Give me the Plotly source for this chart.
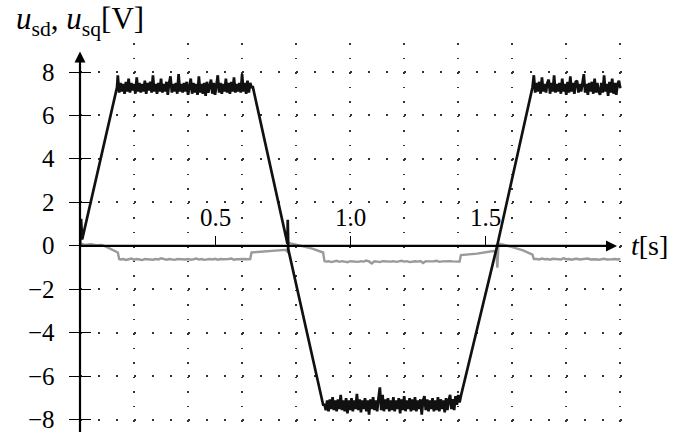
import numpy as np
import plotly.graph_objects as go

# ---------------------------------------------------------------- data
DT_Q = 0.005   # sample step of the u_sq plateau records [s]
DT_D = 0.01    # sample step of the u_sd plateau records [s]

# u_sq : transitions between plateaus (time [s], voltage [V])
usq_ramp1_t = [0.0, 0.004, 0.008, 0.137]
usq_ramp1_v = [0.0, 1.25, 0.3, 7.3]
usq_ramp2_t = [0.64, 0.768, 0.769, 0.771, 0.90]
usq_ramp2_v = [7.3, 0.1, 1.2, -0.15, -7.3]
usq_ramp3_t = [1.41, 1.544, 1.675]
usq_ramp3_v = [-6.9, 0.0, 7.3]

# u_sq : plateau records
usq_plat1_t0 = 0.14
usq_plat1 = [
    7.85, 7.05, 7.5, 7.1, 7.45, 7.0, 7.55, 7.1, 7.7, 7.05,
    7.5, 7.15, 7.45, 7.0, 7.75, 7.1, 7.5, 7.05, 7.45, 7.1,
    7.6, 7.0, 7.5, 7.15, 7.55, 7.05, 7.85, 7.1, 7.45, 7.0,
    7.5, 7.1, 7.7, 7.05, 7.45, 7.1, 7.55, 6.95, 7.5, 7.8,
    7.05, 7.45, 7.1, 7.5, 7.0, 7.9, 7.1, 7.45, 7.05, 7.5,
    7.1, 7.55, 6.95, 7.45, 7.7, 7.0, 7.5, 7.05, 7.45, 6.95,
    7.8, 7.05, 7.45, 7.0, 7.5, 6.9, 7.55, 7.05, 7.45, 7.65,
    7.0, 7.5, 6.95, 7.45, 7.85, 7.05, 7.5, 7.0, 7.45, 7.1,
    7.7, 7.05, 7.5, 7.0, 7.55, 7.1, 7.75, 7.05, 7.45, 7.1,
    7.5, 7.05, 7.9, 7.1, 7.5, 7.0, 7.6, 7.05, 7.5, 7.3,
]
usq_plat2_t0 = 0.905
usq_plat2 = [
    -7.3, -7.55, -7.1, -7.6, -7.05, -7.5, -6.95, -7.55, -7.1, -7.6,
    -7.05, -7.5, -6.85, -7.55, -7.1, -7.6, -7.0, -7.7, -7.1, -7.55,
    -7.0, -7.6, -7.1, -7.5, -6.8, -7.55, -7.05, -7.65, -7.1, -7.5,
    -7.0, -7.6, -7.1, -7.75, -7.05, -7.5, -6.95, -7.55, -7.1, -7.6,
    -7.0, -6.5, -7.55, -6.85, -7.6, -7.05, -7.5, -7.0, -7.6, -7.1,
    -7.55, -6.95, -7.6, -7.1, -7.5, -7.0, -7.7, -7.05, -7.55, -6.9,
    -7.6, -7.1, -7.5, -7.0, -7.6, -7.05, -7.55, -6.95, -7.6, -7.1,
    -7.5, -7.05, -7.75, -7.1, -6.9, -7.55, -7.05, -7.6, -7.1, -7.5,
    -7.0, -7.6, -7.1, -7.55, -6.95, -7.6, -7.05, -7.5, -7.1, -7.65,
    -7.0, -7.55, -7.1, -6.85, -7.5, -7.05, -7.55, -6.9, -7.3, -6.85,
    -7.2,
]
usq_plat3_t0 = 1.68
usq_plat3 = [
    7.85, 7.05, 7.5, 7.1, 7.55, 7.0, 7.75, 7.1, 7.45, 7.05,
    7.5, 7.65, 7.0, 7.5, 7.1, 7.85, 7.05, 7.45, 7.1, 7.5,
    7.0, 7.7, 7.1, 7.45, 6.95, 7.55, 7.05, 7.8, 7.1, 7.5,
    7.0, 7.55, 7.6, 7.05, 7.45, 7.1, 7.5, 7.9, 7.05, 7.45,
    6.95, 7.5, 7.1, 7.55, 7.0, 7.7, 7.05, 7.5, 7.1, 6.95,
    7.5, 7.05, 7.85, 7.1, 7.45, 6.9, 7.55, 7.05, 7.7, 7.0,
    7.5, 6.95, 7.45, 7.6, 7.25,
]

# u_sd : transitions (time [s], voltage [V])
usd_tr1_t = [0.0, 0.005, 0.02, 0.04, 0.06, 0.08, 0.10, 0.12, 0.14, 0.145]
usd_tr1_v = [0.0, 0.1, 0.05, 0.08, 0.04, 0.05, -0.05, -0.18, -0.3, -0.6]
usd_tr2_t = [0.63, 0.635, 0.70, 0.76, 0.767, 0.772, 0.78, 0.82, 0.86, 0.90, 0.905]
usd_tr2_v = [-0.6, -0.3, -0.25, -0.18, -0.25, 0.15, 0.12, 0.0, -0.12, -0.3, -0.7]
usd_tr3_t = [1.405, 1.41, 1.47, 1.53, 1.541, 1.545, 1.549, 1.56, 1.60, 1.64, 1.675, 1.68]
usd_tr3_v = [-0.72, -0.42, -0.35, -0.23, -0.3, -1.0, 0.1, 0.08, -0.05, -0.2, -0.4, -0.6]

# u_sd : plateau records
usd_plat1_t0 = 0.15
usd_plat1 = [
    -0.62, -0.6, -0.64, -0.61, -0.58, -0.63, -0.6, -0.62, -0.65, -0.6,
    -0.61, -0.59, -0.63, -0.6, -0.62, -0.57, -0.61, -0.63, -0.6, -0.62,
    -0.64, -0.6, -0.61, -0.59, -0.62, -0.6, -0.63, -0.61, -0.58, -0.62,
    -0.6, -0.64, -0.61, -0.6, -0.62, -0.59, -0.63, -0.6, -0.61, -0.62,
    -0.6, -0.58, -0.63, -0.61, -0.6, -0.62, -0.6, -0.61,
]
usd_plat2_t0 = 0.91
usd_plat2 = [
    -0.72, -0.7, -0.74, -0.71, -0.68, -0.73, -0.7, -0.72, -0.75, -0.7,
    -0.71, -0.69, -0.73, -0.7, -0.72, -0.67, -0.71, -0.8, -0.7, -0.72,
    -0.74, -0.7, -0.71, -0.69, -0.72, -0.7, -0.73, -0.71, -0.68, -0.72,
    -0.7, -0.74, -0.71, -0.7, -0.72, -0.69, -0.78, -0.7, -0.71, -0.72,
    -0.7, -0.68, -0.73, -0.71, -0.7, -0.72, -0.7, -0.71, -0.73, -0.72,
]
usd_plat3_t0 = 1.69
usd_plat3 = [
    -0.6, -0.62, -0.58, -0.61, -0.6, -0.63, -0.59, -0.61, -0.6, -0.62,
    -0.57, -0.61, -0.6, -0.63, -0.6, -0.59, -0.62, -0.6, -0.61, -0.58,
    -0.62, -0.6, -0.61, -0.63, -0.6, -0.59, -0.62, -0.6, -0.61, -0.6,
    -0.62, -0.6,
]

y_ticks = [-8, -6, -4, -2, 0, 2, 4, 6, 8]
y_ticktext = ["\u22128", "\u22126", "\u22124", "\u22122", "0", "2", "4", "6", "8"]
t_ticks = [0.5, 1.0, 1.5]
t_ticktext = ["0.5", "1.0", "1.5"]
t_grid = [0.2, 0.4, 0.6, 0.8, 1.0, 1.2, 1.4, 1.6, 1.8, 2.0]


def record(t0, step, values):
    return list(t0 + step * np.arange(len(values))), list(values)


def join(*parts):
    t, v = [], []
    for pt, pv in parts:
        t += list(pt)
        v += list(pv)
    return t, v


usq_t, usq_v = join(
    (usq_ramp1_t, usq_ramp1_v),
    record(usq_plat1_t0, DT_Q, usq_plat1),
    (usq_ramp2_t, usq_ramp2_v),
    record(usq_plat2_t0, DT_Q, usq_plat2),
    (usq_ramp3_t, usq_ramp3_v),
    record(usq_plat3_t0, DT_Q, usq_plat3),
)
usd_t, usd_v = join(
    (usd_tr1_t, usd_tr1_v),
    record(usd_plat1_t0, DT_D, usd_plat1),
    (usd_tr2_t, usd_tr2_v),
    record(usd_plat2_t0, DT_D, usd_plat2),
    (usd_tr3_t, usd_tr3_v),
    record(usd_plat3_t0, DT_D, usd_plat3),
)

# ---------------------------------------------------------------- layout
W, H = 688, 434
L, T = 80, 43
X_RANGE = [0.0, 2.01]
Y_RANGE = [-8.6, 9.3333]
PX_PER_S = 270.0
PX_PER_V = 21.75
plot_w = (X_RANGE[1] - X_RANGE[0]) * PX_PER_S
plot_h = (Y_RANGE[1] - Y_RANGE[0]) * PX_PER_V
R = W - L - plot_w
B = H - T - plot_h
zero_frac = (0 - Y_RANGE[0]) / (Y_RANGE[1] - Y_RANGE[0])
Y0_PX = T + Y_RANGE[1] * PX_PER_V          # pixel row of u = 0

FONT = "Liberation Serif"
fs = 25
txt_font = dict(family=FONT, size=fs, color="black")

fig = go.Figure()
fig.add_trace(go.Scatter(x=usd_t, y=usd_v, mode="lines",
                         line=dict(color="#9a9a9a", width=2.4),
                         xaxis="x", yaxis="y", showlegend=False))
fig.add_trace(go.Scatter(x=usq_t, y=usq_v, mode="lines",
                         line=dict(color="#111111", width=2.7),
                         xaxis="x2", yaxis="y2", showlegend=False))

grid_col = "#333333"
common = dict(zeroline=False, showline=False, showticklabels=False)
tick_style = dict(ticklen=10, tickwidth=1.2, tickcolor="black", showgrid=False)

fig.update_layout(
    width=W, height=H,
    margin=dict(l=L, r=R, t=T, b=B, pad=0),
    paper_bgcolor="white", plot_bgcolor="white",
    font=txt_font,
    showlegend=False,
    # vertical dotted grid every 0.2 s
    xaxis=dict(range=X_RANGE, tickmode="array", tickvals=t_grid, ticks="",
               showgrid=True, gridcolor=grid_col, gridwidth=1.7,
               griddash="1.7px,12.8px", **common),
    # time ticks crossing the time axis (upper and lower halves)
    xaxis2=dict(range=X_RANGE, overlaying="x", anchor="free", position=zero_frac,
                side="top", tickmode="array", tickvals=t_ticks, ticks="outside",
                **tick_style, **common),
    xaxis3=dict(range=X_RANGE, overlaying="x", anchor="free", position=zero_frac,
                side="bottom", tickmode="array", tickvals=t_ticks, ticks="outside",
                **tick_style, **common),
    # voltage ticks and horizontal dotted grid
    yaxis=dict(range=Y_RANGE, tickmode="array", tickvals=y_ticks, ticks="outside",
               ticklen=10, tickwidth=1.2, tickcolor="black",
               showgrid=True, gridcolor=grid_col, gridwidth=1.7,
               griddash="1.7px,16.3px", **common),
    yaxis2=dict(range=Y_RANGE, overlaying="y", anchor="free", position=0,
                side="left", tickmode="array", tickvals=y_ticks, ticks="inside",
                **tick_style, **common),
)


def px_x(p):
    return (p - L) / plot_w


# tick labels
for v, s in zip(y_ticks, y_ticktext):
    fig.add_annotation(text=s, xref="paper", yref="y", x=px_x(57), y=v,
                       xanchor="right", yanchor="middle", showarrow=False,
                       font=txt_font)
for v, s in zip(t_ticks, t_ticktext):
    fig.add_annotation(text=s, xref="x", yref="y", x=v, y=0, yshift=28,
                       xanchor="center", yanchor="middle", showarrow=False,
                       font=txt_font)

# axis titles carrying the axis lines with their arrow heads
axis_arrow = dict(showarrow=True, arrowside="start", startarrowhead=2,
                  startarrowsize=1.0, arrowwidth=2.2, arrowcolor="black",
                  standoff=0, xref="x", yref="y", axref="pixel", ayref="pixel")
y_bottom = -8.55
y_bottom_px = Y0_PX - y_bottom * PX_PER_V
fig.add_annotation(text="<i>u</i><sub>sd</sub>, <i>u</i><sub>sq</sub>[V]",
                   x=0, y=y_bottom, ax=0, ay=21 - y_bottom_px,
                   startstandoff=9, font=dict(family=FONT, size=31, color="black"),
                   **axis_arrow)
fig.add_annotation(text="<i>t</i>[s]", x=0, y=0, ax=569, ay=0,
                   startstandoff=12, font=dict(family=FONT, size=28, color="black"),
                   **axis_arrow)

fig.write_html("out.html")
